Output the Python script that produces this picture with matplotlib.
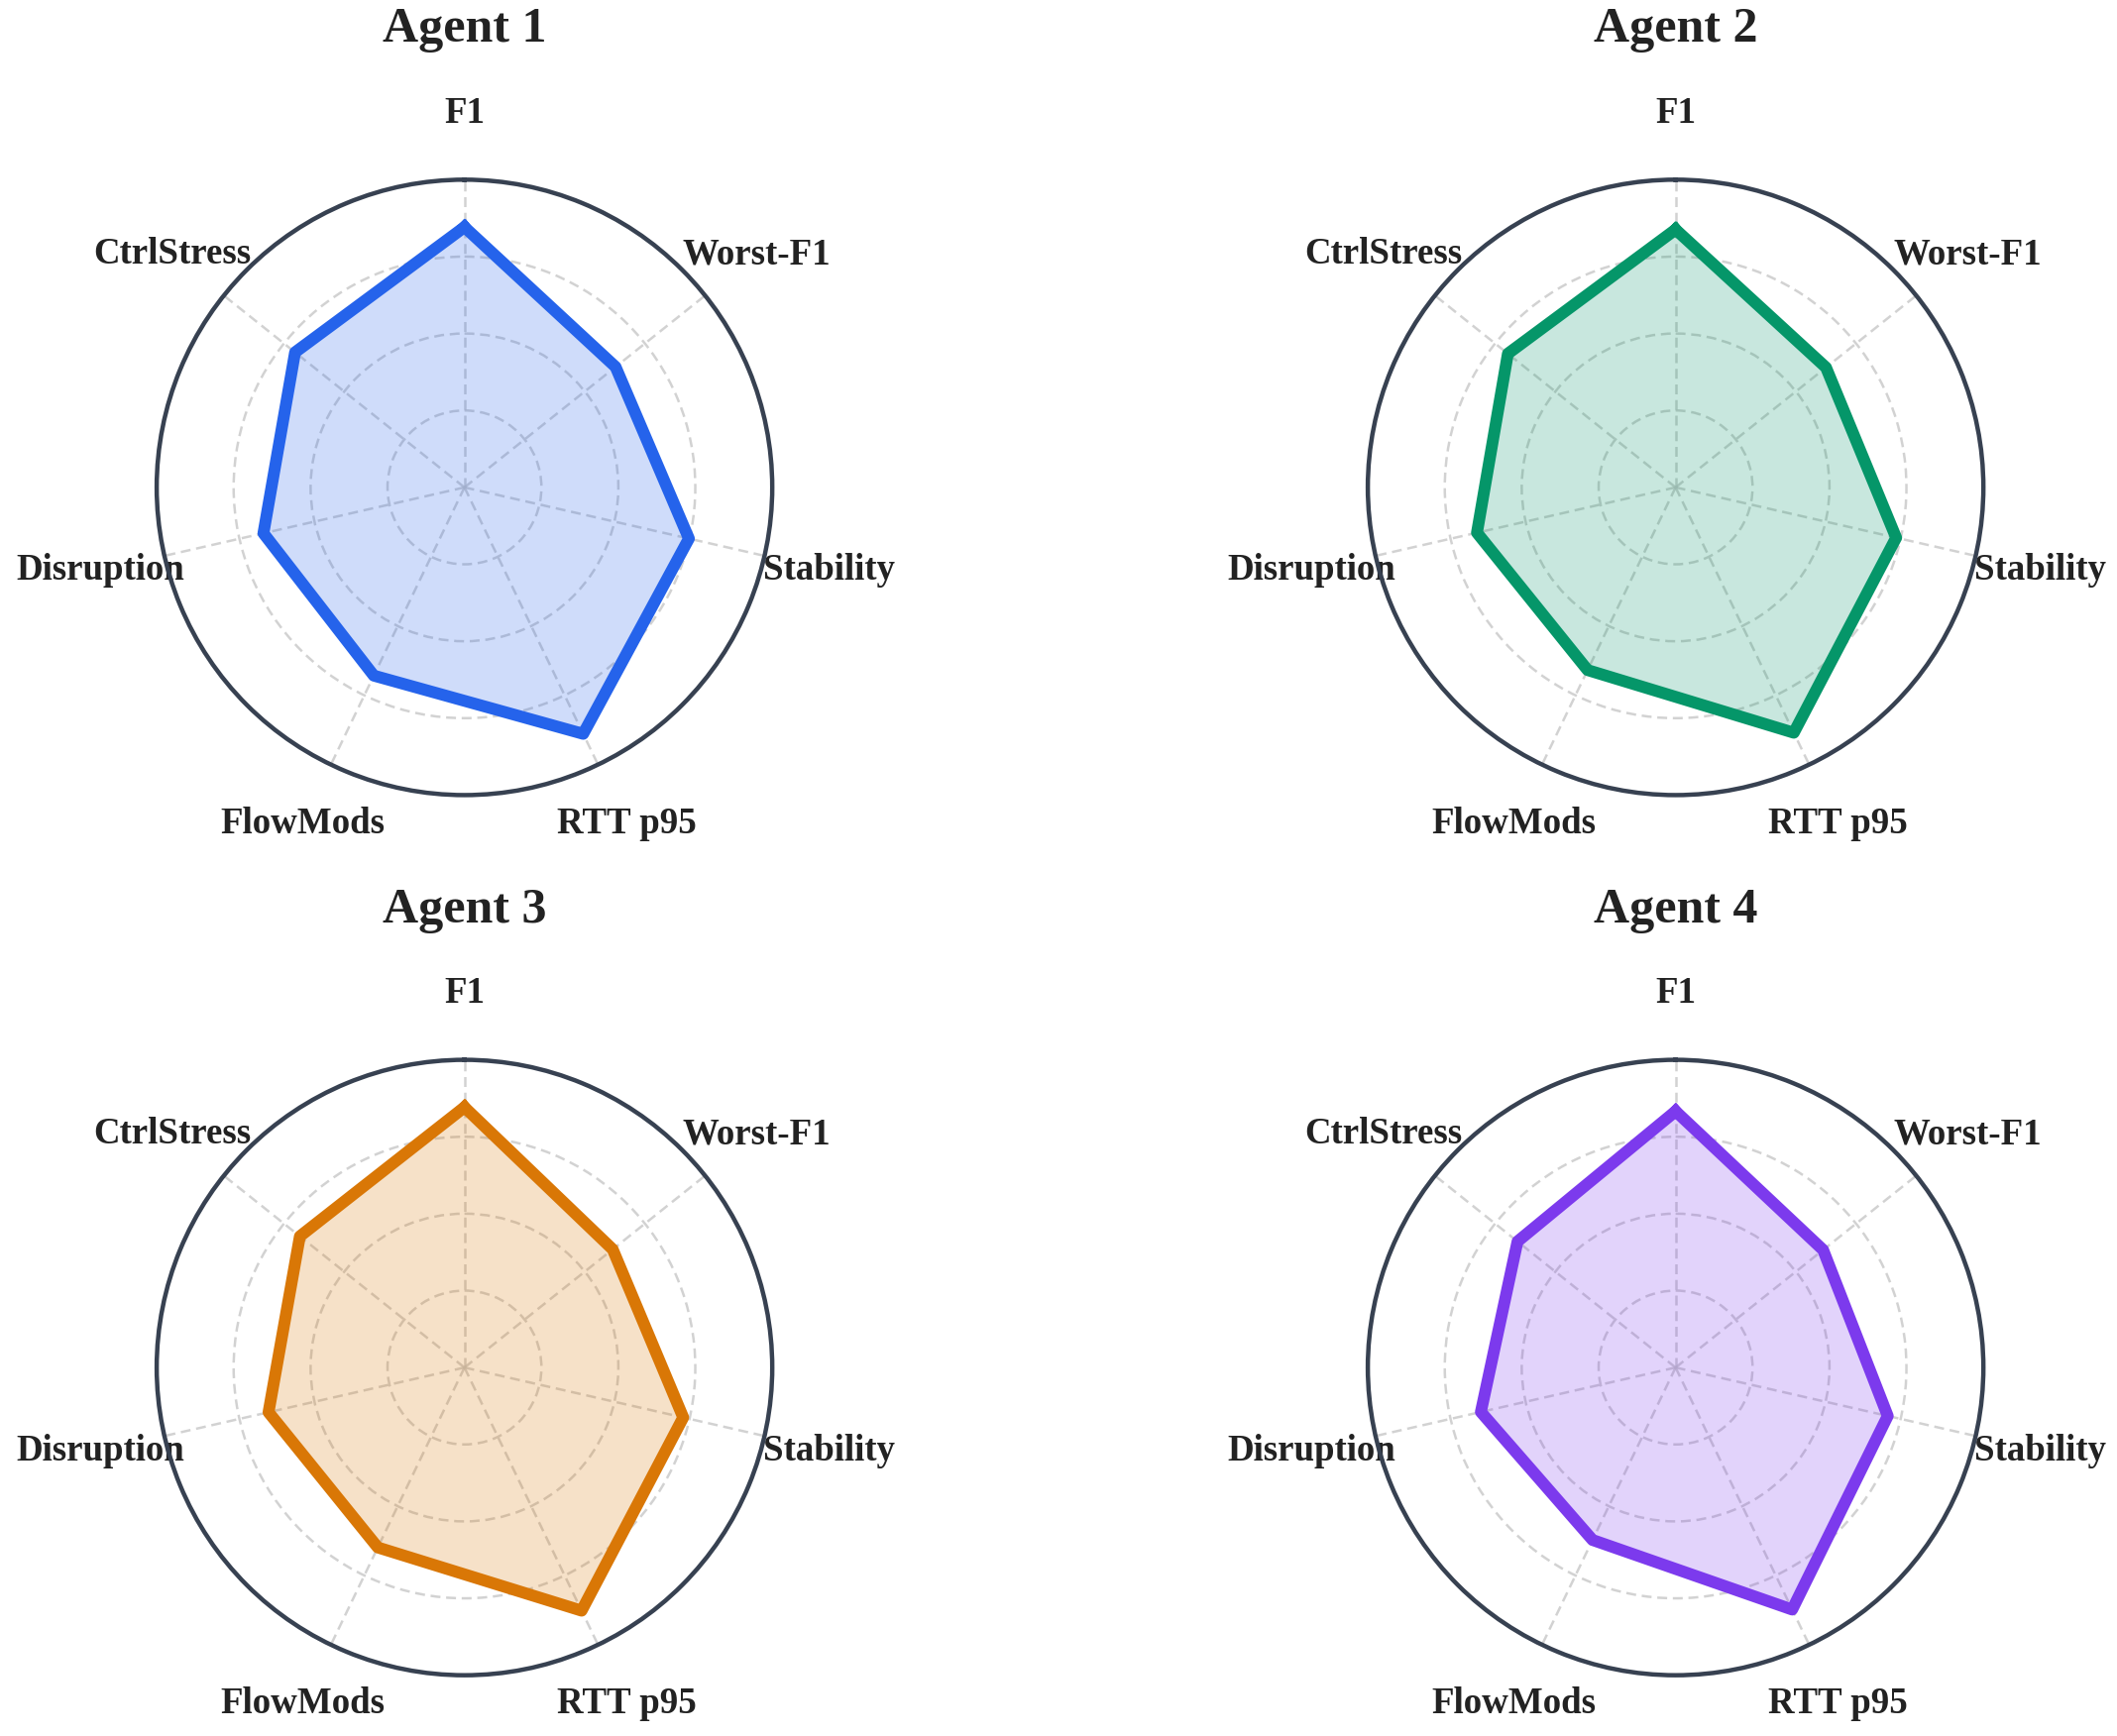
import numpy as np
import matplotlib
matplotlib.use('Agg')
import matplotlib.pyplot as plt

plt.rcParams['font.family'] = ['Liberation Serif', 'DejaVu Serif']

metrics = ["F1", "Worst-F1", "Stability", "RTT p95", "FlowMods", "Disruption", "CtrlStress"]
agents = ["Agent 1", "Agent 2", "Agent 3", "Agent 4"]
colors = ["#2563eb", "#059669", "#d97706", "#7c3aed"]

agent1 = [0.846, 0.628, 0.748, 0.889, 0.679, 0.670, 0.704]
agent2 = [0.838, 0.625, 0.735, 0.885, 0.659, 0.662, 0.697]
agent3 = [0.846, 0.616, 0.729, 0.877, 0.649, 0.653, 0.684]
agent4 = [0.833, 0.613, 0.707, 0.873, 0.622, 0.649, 0.657]
scores = [agent1, agent2, agent3, agent4]

angles = np.linspace(0, 2 * np.pi, len(metrics), endpoint=False)
theta_closed = np.append(angles, angles[0])

fig = plt.figure(figsize=(10.68, 8.76), dpi=200)
positions = [(0.0740, 0.542), (0.6461, 0.542), (0.0740, 0.0350), (0.6461, 0.0350)]
w, h = 0.2908, 0.3545

for name, vals, col, (x0, y0) in zip(agents, scores, colors, positions):
    ax = fig.add_axes([x0, y0, w, h], projection='polar')
    ax.set_theta_offset(np.pi / 2)
    ax.set_theta_direction(-1)
    ax.set_ylim(0, 1.0)
    ax.set_rgrids([0.25, 0.5, 0.75], labels=[])
    ax.set_thetagrids(np.degrees(angles), labels=metrics)
    ax.grid(True, color='#c4c4c4', linestyle=(0, (4, 2.3)), linewidth=0.9, alpha=0.75)
    ax.spines['polar'].set_color('#374151')
    ax.spines['polar'].set_linewidth(1.6)
    ax.tick_params(axis='x', pad=13.5, labelsize=13.3, colors='#222222')
    for lbl in ax.get_xticklabels():
        lbl.set_fontweight('bold')

    v = np.append(vals, vals[0])
    ax.fill(theta_closed, v, color=col, alpha=0.22, zorder=2)
    ax.plot(theta_closed, v, color=col, linewidth=4.3, zorder=4)

    ax.set_title(name, fontsize=18, fontweight='bold', color='#222222', pad=50)

fig.savefig('out.png', dpi=200)
